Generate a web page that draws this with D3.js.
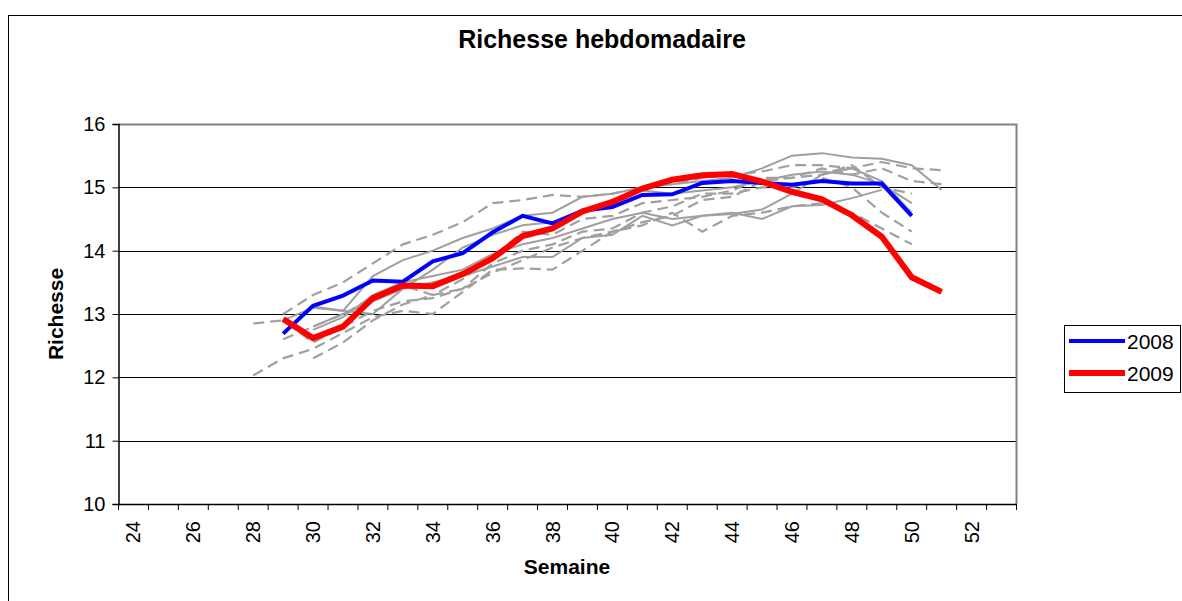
<!DOCTYPE html>
<html>
<head>
<meta charset="utf-8">
<script src="https://cdn.jsdelivr.net/npm/d3@7"></script>
<style>
  body { margin: 0; background: #fff; }
  text { font-family: "Liberation Sans", Arial, sans-serif; }
</style>
</head>
<body>
<div id="chart"></div>
<script>
const weeks = d3.range(24, 54);
const yTicks = [10, 11, 12, 13, 14, 15, 16];

// 2008 and 2009, weeks 29 -> end
const start2008 = 29;
const values2008 = [12.69, 13.13, 13.29, 13.53, 13.51, 13.83, 13.96, 14.29, 14.55, 14.43, 14.63, 14.69,
  14.88, 14.89, 15.07, 15.10, 15.07, 15.04, 15.10, 15.06, 15.06, 14.55];
const start2009 = 29;
const values2009 = [12.92, 12.62, 12.80, 13.25, 13.45, 13.44, 13.63, 13.88, 14.23, 14.35, 14.62, 14.77,
  14.98, 15.12, 15.19, 15.21, 15.09, 14.93, 14.81, 14.56, 14.22, 13.58, 13.35];

// other years (grey), solid and dashed
const greySolid = [
  { start: 29, values: [12.9, 13.1, 13.05, 13.6, 13.85, 14.0, 14.2, 14.35, 14.55, 14.6, 14.85, 14.9, 15.0,
    15.05, 15.1, 15.15, 15.3, 15.5, 15.54, 15.47, 15.45, 15.35, 14.96] },
  { start: 30, values: [12.8, 13.0, 13.2, 13.4, 13.5, 13.6, 13.75, 13.9, 13.9, 14.2, 14.25, 14.55, 14.4,
    14.55, 14.6, 14.5, 14.7, 14.72, 14.83, 14.96] },
  { start: 30, values: [12.75, 12.95, 13.3, 13.5, 13.6, 13.7, 13.95, 14.1, 14.2, 14.35, 14.5, 14.6, 14.5,
    14.55, 14.58, 14.65, 14.9, 15.2, 15.3, 15.1, 14.6] },
  { start: 30, values: [13.12, 13.05, 13.0, 13.4, 13.7, 14.05, 14.25, 14.4, 14.45, 14.6, 14.75, 14.95, 14.9,
    14.95, 15.0, 15.1, 15.2, 15.25, 15.2, 15.05, 14.75] }
];
const greyDashed = [
  { start: 29, values: [13.0, 13.3, 13.5, 13.8, 14.1, 14.25, 14.45, 14.75, 14.8, 14.88, 14.85, 14.9, 15.0,
    15.05, 15.15, 15.2, 15.25, 15.35, 15.35, 15.3, 15.4, 15.3, 15.27] },
  { start: 28, values: [12.03, 12.3, 12.45, 12.7, 12.95, 13.05, 13.0, 13.35, 13.7, 13.72, 13.7, 14.0, 14.3,
    14.4, 14.6, 14.3, 14.55, 14.6, 14.7, 14.75, 14.6, 14.35, 14.1] },
  { start: 28, values: [12.85, 12.9, 12.55, 12.8, 13.05, 13.2, 13.25, 13.4, 13.8, 14.0, 14.1, 14.3, 14.35,
    14.6, 14.7, 14.9, 14.9, 15.0, 15.0, 15.15, 15.0, 14.6, 14.3] },
  { start: 30, values: [12.3, 12.55, 12.9, 13.15, 13.3, 13.4, 13.65, 13.85, 14.05, 14.2, 14.3, 14.45, 14.55,
    14.8, 14.85, 15.1, 15.15, 15.2, 15.35, 15.0, 14.9] },
  { start: 29, values: [12.6, 12.8, 13.0, 13.25, 13.45, 13.3, 13.55, 13.9, 14.3, 14.25, 14.5, 14.55, 14.75,
    14.8, 14.85, 14.95, 15.15, 15.15, 15.3, 15.2, 15.3, 15.1, 15.05] }
];

const width = 1182, height = 601;
const plot = { left: 118.5, right: 1016.5, top: 124, bottom: 504 };

const svg = d3.select("#chart").append("svg")
  .attr("width", width)
  .attr("height", height);

// outer frame
svg.append("rect")
  .attr("x", 8.5).attr("y", 15.5)
  .attr("width", 1190).attr("height", 600)
  .attr("fill", "none").attr("stroke", "#000").attr("stroke-width", 1);

const x = d3.scaleBand().domain(weeks).range([plot.left, plot.right]).paddingInner(0).paddingOuter(0);
const y = d3.scaleLinear().domain([10, 16]).range([plot.bottom, plot.top]);
const cx = w => x(w) + x.bandwidth() / 2;

// gridlines
svg.append("g").selectAll("line")
  .data(yTicks.slice(1, -1))
  .enter().append("line")
  .attr("x1", plot.left).attr("x2", plot.right)
  .attr("y1", d => Math.round(y(d)) + 0.5).attr("y2", d => Math.round(y(d)) + 0.5)
  .attr("stroke", "#000").attr("stroke-width", 1);

// plot border (top and right)
svg.append("path")
  .attr("d", `M${plot.left},${plot.top + 0.5}H${plot.right}V${plot.bottom}`)
  .attr("fill", "none").attr("stroke", "#808080").attr("stroke-width", 2);

// y axis
const yAxis = svg.append("g").attr("transform", `translate(${plot.left},0)`)
  .call(d3.axisLeft(y).tickValues(yTicks).tickSize(6).tickPadding(7).tickFormat(d3.format("d")));
yAxis.select(".domain").attr("stroke", "#000").attr("stroke-width", 1.5);
yAxis.selectAll(".tick line").attr("stroke", "#000");
yAxis.selectAll("text").attr("font-size", 20).attr("fill", "#000")
  .attr("font-family", "Liberation Sans, Arial, sans-serif");

// x axis
const bounds = weeks.map(w => x(w)).concat([plot.right]);
const xg = svg.append("g");
xg.append("line")
  .attr("x1", plot.left).attr("x2", plot.right)
  .attr("y1", plot.bottom + 0.5).attr("y2", plot.bottom + 0.5)
  .attr("stroke", "#000").attr("stroke-width", 1.5);
xg.selectAll(".tk").data(bounds).enter().append("line")
  .attr("x1", d => d).attr("x2", d => d)
  .attr("y1", plot.bottom).attr("y2", plot.bottom + 6)
  .attr("stroke", "#000");
xg.selectAll(".lbl").data(weeks.filter(w => w % 2 === 0)).enter().append("text")
  .attr("transform", w => `translate(${cx(w) + 7},${plot.bottom + 17}) rotate(-90)`)
  .attr("text-anchor", "end")
  .attr("font-size", 20)
  .text(w => w);

// series
const line = start => d3.line()
  .x((d, i) => cx(start + i))
  .y(d => y(d));

const greyColor = "#a0a0a0";
greySolid.forEach(s => {
  svg.append("path").datum(s.values)
    .attr("d", line(s.start))
    .attr("fill", "none").attr("stroke", greyColor).attr("stroke-width", 2);
});
greyDashed.forEach(s => {
  svg.append("path").datum(s.values)
    .attr("d", line(s.start))
    .attr("fill", "none").attr("stroke", greyColor).attr("stroke-width", 2.2)
    .attr("stroke-dasharray", "11,6");
});

svg.append("path").datum(values2008)
  .attr("d", line(start2008))
  .attr("fill", "none").attr("stroke", "#0000ff").attr("stroke-width", 4);
svg.append("path").datum(values2009)
  .attr("d", line(start2009))
  .attr("fill", "none").attr("stroke", "#ff0000").attr("stroke-width", 6);

// titles
svg.append("text")
  .attr("x", 602).attr("y", 48)
  .attr("text-anchor", "middle")
  .attr("font-size", 25).attr("font-weight", "bold")
  .text("Richesse hebdomadaire");
svg.append("text")
  .attr("x", 567).attr("y", 574)
  .attr("text-anchor", "middle")
  .attr("font-size", 21).attr("font-weight", "bold")
  .text("Semaine");
svg.append("text")
  .attr("transform", `translate(63,${(plot.top + plot.bottom) / 2}) rotate(-90)`)
  .attr("text-anchor", "middle")
  .attr("font-size", 21).attr("font-weight", "bold")
  .text("Richesse");

// legend
const legend = svg.append("g");
legend.append("rect")
  .attr("x", 1064.5).attr("y", 325.5).attr("width", 116).attr("height", 67)
  .attr("fill", "#fff").attr("stroke", "#000");
const legendItems = [
  { label: "2008", color: "#0000ff", w: 4 },
  { label: "2009", color: "#ff0000", w: 6 }
];
legendItems.forEach((d, i) => {
  const ly = 341 + i * 32;
  legend.append("line")
    .attr("x1", 1069).attr("x2", 1125).attr("y1", ly).attr("y2", ly)
    .attr("stroke", d.color).attr("stroke-width", d.w);
  legend.append("text")
    .attr("x", 1127).attr("y", ly + 8)
    .attr("font-size", 21)
    .text(d.label);
});
</script>
</body>
</html>
